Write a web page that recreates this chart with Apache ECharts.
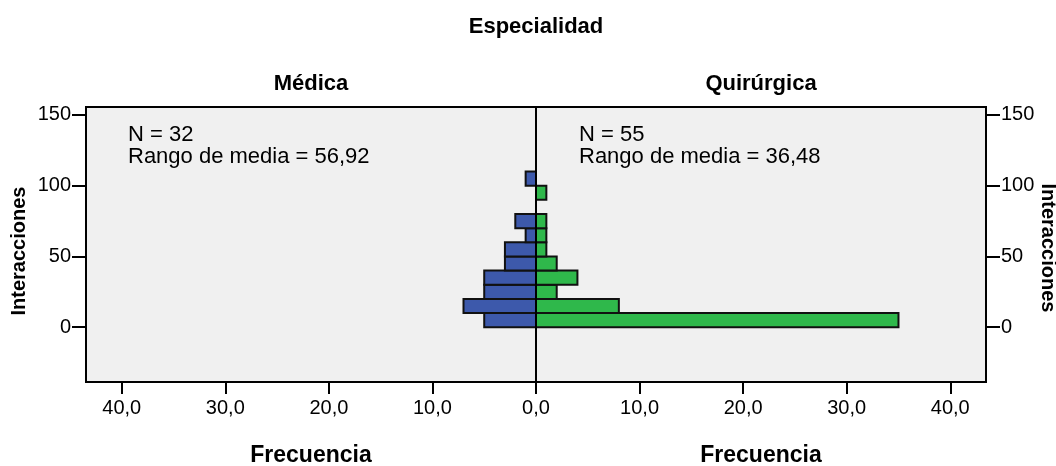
<!DOCTYPE html>
<html>
<head>
<meta charset="utf-8">
<script src="https://cdn.jsdelivr.net/npm/echarts@6/dist/echarts.min.js"></script>
<style>
html,body{margin:0;padding:0;background:#ffffff;}
#chart{width:1056px;height:466px;}
</style>
</head>
<body>
<div id="chart"></div>
<script>
// Bin edges (Interacciones) for each histogram bar
const binStarts = [0, 10, 20, 30, 40, 50, 60, 70, 80, 90, 100];
const binWidth = 10;
// Frequencies per bin
const medicaFreq = [5, 7, 5, 5, 3, 3, 1, 2, 0, 0, 1];
const quirurgicaFreq = [35, 8, 2, 4, 2, 1, 1, 1, 0, 1, 0];
// Tick labels
const yTicks = [0, 50, 100, 150];
const xTicks = [0, 10, 20, 30, 40];
const groupNames = ['Médica', 'Quirúrgica'];
const notesMedica = ['N = 32', 'Rango de media = 56,92'];
const notesQuirurgica = ['N = 55', 'Rango de media = 36,48'];
const mainTitle = 'Especialidad';
const xTitle = 'Frecuencia';
const yTitle = 'Interacciones';

const FONT = '"Liberation Sans", Arial, sans-serif';
const BLUE = '#3d59ab';
const GREEN = '#2fb84b';

function toData(freq) {
  const out = [];
  binStarts.forEach((s, i) => { if (freq[i] > 0) out.push([s, s + binWidth, freq[i]]); });
  return out;
}

function renderBar(color) {
  return function (params, api) {
    const a = api.coord([0, api.value(0)]);
    const b = api.coord([api.value(2), api.value(1)]);
    const x = Math.min(a[0], b[0]);
    const y = Math.min(a[1], b[1]);
    return {
      type: 'rect',
      shape: { x: x, y: y, width: Math.abs(b[0] - a[0]), height: Math.abs(b[1] - a[1]) },
      style: { fill: color, stroke: '#111', lineWidth: 2 }
    };
  };
}

const fmtX = v => v.toFixed(1).replace('.', ',');
const yMin = -38.7, yMax = 155.6, xMax = 43.45;

const gridTop = 107, gridBottom = 466 - 382;
const chart = echarts.init(document.getElementById('chart'), null, { renderer: 'canvas' });

function makeX(idx, inverse, skipZero) {
  return {
    type: 'value', gridIndex: idx, inverse: inverse, min: 0, max: xMax, position: 'bottom',
    axisLine: { show: false, onZero: false },
    axisTick: { show: true, length: 12, customValues: xTicks, lineStyle: { color: '#000', width: 2 } },
    axisLabel: {
      customValues: skipZero ? xTicks.filter(v => v !== 0) : xTicks,
      formatter: v => fmtX(v), color: '#000', fontFamily: FONT, fontSize: 20, margin: 16
    },
    splitLine: { show: false }
  };
}
function makeY(idx, pos) {
  return {
    type: 'value', gridIndex: idx, min: yMin, max: yMax, position: pos,
    axisLine: { show: false, onZero: false },
    axisTick: { show: true, length: 14, customValues: yTicks, lineStyle: { color: '#000', width: 2 } },
    axisLabel: { customValues: yTicks, color: '#000', fontFamily: FONT, fontSize: 20, margin: 15 },
    splitLine: { show: false }
  };
}

chart.setOption({
  animation: false,
  grid: [
    { left: 86, width: 450, top: gridTop, bottom: gridBottom, show: true, backgroundColor: '#f0f0f0', borderColor: '#000', borderWidth: 2 },
    { left: 536, width: 450, top: gridTop, bottom: gridBottom, show: true, backgroundColor: '#f0f0f0', borderColor: '#000', borderWidth: 2 }
  ],
  xAxis: [makeX(0, true, true), makeX(1, false, false)],
  yAxis: [makeY(0, 'left'), makeY(1, 'right')],
  series: [
    { type: 'custom', xAxisIndex: 0, yAxisIndex: 0, data: toData(medicaFreq), renderItem: renderBar(BLUE), encode: { x: 2, y: [0, 1] } },
    { type: 'custom', xAxisIndex: 1, yAxisIndex: 1, data: toData(quirurgicaFreq), renderItem: renderBar(GREEN), encode: { x: 2, y: [0, 1] } }
  ],
  graphic: [
    { type: 'line', z: 100, shape: { x1: 536, y1: gridTop, x2: 536, y2: 382 }, style: { stroke: '#000', lineWidth: 2 } },
    { type: 'text', x: 536, y: 27, style: { text: mainTitle, font: 'bold 22px ' + FONT, fill: '#000', align: 'center', verticalAlign: 'middle' } },
    { type: 'text', x: 311, y: 84, style: { text: groupNames[0], font: 'bold 22px ' + FONT, fill: '#000', align: 'center', verticalAlign: 'middle' } },
    { type: 'text', x: 761, y: 84, style: { text: groupNames[1], font: 'bold 22px ' + FONT, fill: '#000', align: 'center', verticalAlign: 'middle' } },
    { type: 'text', x: 311, y: 456, style: { text: xTitle, font: 'bold 23px ' + FONT, fill: '#000', align: 'center', verticalAlign: 'middle' } },
    { type: 'text', x: 761, y: 456, style: { text: xTitle, font: 'bold 23px ' + FONT, fill: '#000', align: 'center', verticalAlign: 'middle' } },
    { type: 'text', x: 19, y: 251, rotation: Math.PI / 2, style: { text: yTitle, font: 'bold 20px ' + FONT, fill: '#000', align: 'center', verticalAlign: 'middle' } },
    { type: 'text', x: 1048, y: 248, rotation: -Math.PI / 2, style: { text: yTitle, font: 'bold 20px ' + FONT, fill: '#000', align: 'center', verticalAlign: 'middle' } },
    { type: 'text', x: 128, y: 124, style: { text: notesMedica.join('\n'), font: '22px ' + FONT, lineHeight: 22, fill: '#000', align: 'left', verticalAlign: 'top' } },
    { type: 'text', x: 579, y: 124, style: { text: notesQuirurgica.join('\n'), font: '22px ' + FONT, lineHeight: 22, fill: '#000', align: 'left', verticalAlign: 'top' } }
  ]
});
</script>
</body>
</html>
